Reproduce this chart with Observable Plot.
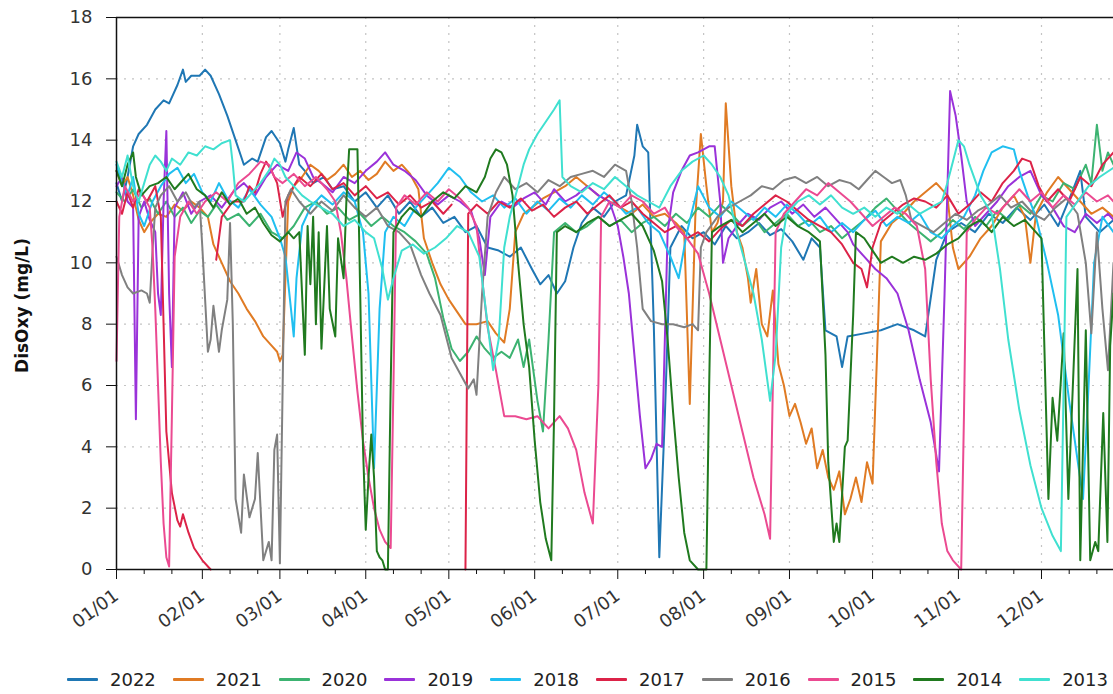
<!DOCTYPE html>
<html>
<head>
<meta charset="utf-8">
<script src="https://cdn.jsdelivr.net/npm/d3@7"></script>
<script src="https://cdn.jsdelivr.net/npm/@observablehq/plot@0.6"></script>
<style>
  html, body { margin: 0; padding: 0; background: white; }
  #wrap { position: relative; width: 1113px; height: 694px; overflow: hidden; font-family: "DejaVu Sans", sans-serif; }
  #legend { position: absolute; left: 67px; top: 669px; display: flex; }
  .item { width: 105.8px; display: flex; align-items: center; font-size: 18px; color: #222; white-space: nowrap; }
  .sw { width: 31px; height: 3px; margin-right: 12px; border-radius: 1px; }
</style>
</head>
<body>
<div id="wrap"><div id="chart"></div><div id="legend"></div></div>
<script>
const years = ["2022","2021","2020","2019","2018","2017","2016","2015","2014","2013"];
const colors = ["#1f77b4","#e07b24","#3cb371","#9a32d9","#20bff0","#dc2348","#808080","#eb4a91","#207a1f","#40e0d0"];
const monthDays = [0,31,59,90,120,151,181,212,243,273,304,334];
const monthLabels = ["01/01","02/01","03/01","04/01","05/01","06/01","07/01","08/01","09/01","10/01","11/01","12/01"];
const minorDays = monthDays.flatMap(d => [d + 10, d + 20]);
const yTicks = [0,2,4,6,8,10,12,14,16,18];
const yLabel = "DisOxy (mg/L)";

const s2022 = [[0,12.6],[2,12.0],[4,12.8],[6,13.8],[8,14.2],[11,14.5],[14,15.0],[17,15.3],[19,15.2],[22,15.8],[24,16.3],[25,15.9],[27,16.1],[30,16.1],[32,16.3],[34,16.1],[37,15.5],[40,14.8],[43,14.0],[46,13.2],[49,13.4],[51,13.3],[54,14.1],[56,14.3],[59,13.9],[61,13.3],[62,13.7],[64,14.4],[66,13.2],[68,13.0],[71,12.6],[75,12.8],[78,12.4],[82,12.5],[86,12.0],[90,12.3],[94,11.8],[98,12.2],[102,11.6],[106,12.0],[110,11.5],[114,11.8],[118,11.3],[122,11.5],[126,11.0],[130,11.2],[134,10.5],[138,10.4],[142,10.2],[146,10.5],[150,9.8],[153,9.3],[156,9.6],[159,9.0],[162,9.4],[165,10.5],[168,11.3],[172,11.8],[176,11.5],[180,12.0],[184,12.2],[187,13.5],[188,14.5],[190,13.8],[192,13.6],[194,8.0],[196,0.4],[198,5.0],[200,10.5],[204,11.2],[208,10.8],[212,11.0],[216,10.6],[220,11.2],[224,10.8],[228,11.0],[232,11.3],[236,10.9],[240,11.1],[244,10.7],[248,10.1],[251,10.8],[254,10.5],[256,7.8],[260,7.6],[262,6.6],[264,7.6],[270,7.7],[276,7.8],[282,8.0],[288,7.8],[292,7.6],[296,10.1],[300,11.0],[305,11.3],[310,11.0],[315,11.6],[320,11.3],[325,11.8],[330,11.4],[335,11.9],[340,11.2],[345,12.3],[348,13.0],[350,11.5],[355,11.0],[360,11.4]];
const s2021 = [[0,13.0],[2,12.5],[4,12.8],[6,12.2],[8,11.4],[10,11.0],[12,11.3],[15,11.6],[18,11.5],[21,11.9],[24,11.7],[27,12.0],[30,11.8],[33,11.5],[35,10.6],[38,10.0],[41,9.4],[44,9.0],[47,8.5],[50,8.1],[53,7.6],[56,7.3],[58,7.1],[59,6.8],[60,7.0],[61,9.5],[62,12.0],[64,12.5],[67,12.8],[70,13.2],[73,13.0],[76,12.7],[79,12.9],[82,13.2],[85,12.8],[88,13.0],[91,12.7],[94,12.9],[97,13.3],[100,13.0],[103,13.2],[106,12.9],[109,12.4],[111,10.8],[114,10.0],[117,9.3],[120,8.8],[123,8.4],[126,8.0],[130,8.0],[134,8.1],[137,7.7],[140,7.4],[142,8.5],[144,11.0],[147,11.6],[150,11.8],[154,12.1],[158,12.3],[162,12.5],[166,12.8],[170,12.5],[174,12.2],[178,12.0],[182,11.8],[186,11.6],[190,11.9],[194,11.5],[198,11.6],[202,11.3],[205,11.0],[207,5.4],[209,11.5],[211,14.2],[213,12.5],[215,11.0],[217,11.3],[219,12.0],[220,15.2],[222,12.5],[224,11.0],[226,10.5],[228,9.5],[229,8.7],[231,9.8],[233,8.0],[235,7.6],[237,9.1],[239,6.7],[241,6.0],[243,5.0],[245,5.4],[247,4.8],[249,4.1],[251,4.6],[253,3.3],[255,3.9],[257,3.0],[259,2.6],[261,3.2],[263,1.8],[265,2.3],[267,3.0],[269,2.2],[271,3.5],[273,2.8],[275,8.0],[276,10.7],[280,11.3],[284,11.6],[288,12.0],[292,12.3],[296,12.6],[300,12.2],[302,10.5],[304,9.8],[308,10.2],[312,10.8],[316,11.2],[320,11.8],[324,12.2],[328,11.5],[330,10.0],[332,11.6],[336,12.3],[340,12.8],[344,12.4],[348,12.0],[352,11.6],[356,11.8],[360,11.5]];
const s2020 = [[0,12.3],[3,12.0],[6,12.4],[9,11.8],[12,12.1],[15,11.6],[18,12.0],[21,11.5],[24,11.8],[27,11.3],[30,11.7],[33,11.5],[36,11.9],[40,11.4],[44,11.6],[48,11.2],[52,11.6],[56,11.0],[60,10.8],[64,11.2],[68,11.8],[72,12.0],[76,11.6],[80,11.8],[84,11.4],[88,11.6],[92,11.2],[96,11.5],[100,11.2],[104,11.0],[108,10.7],[112,10.3],[115,9.5],[118,8.2],[121,7.2],[124,6.8],[127,7.1],[130,7.6],[133,7.2],[136,6.9],[139,7.1],[142,6.9],[145,7.5],[147,6.6],[149,7.5],[152,5.5],[154,4.5],[156,7.5],[158,11.0],[162,11.3],[166,11.0],[170,11.2],[174,11.5],[178,11.2],[182,11.4],[186,11.0],[190,11.3],[194,11.5],[198,11.2],[202,11.6],[206,11.3],[210,11.8],[214,11.5],[218,11.9],[222,11.6],[226,11.2],[230,11.5],[234,11.0],[238,11.3],[242,11.6],[246,11.2],[250,11.4],[254,11.0],[258,11.2],[262,10.8],[266,11.1],[270,11.4],[274,11.8],[278,12.1],[282,11.7],[286,11.3],[290,11.0],[294,10.7],[298,11.0],[302,11.4],[306,11.1],[310,11.5],[314,11.2],[318,11.7],[322,11.4],[326,11.9],[330,11.6],[334,12.2],[338,12.0],[342,12.6],[346,12.4],[350,13.2],[352,12.6],[354,14.5],[356,13.0],[358,13.6],[360,13.2]];
const s2019 = [[0,12.5],[2,12.8],[4,12.0],[6,11.8],[7,4.9],[8,11.5],[10,12.0],[12,11.4],[14,11.0],[15,9.0],[16,8.3],[17,12.0],[18,14.3],[19,9.0],[20,6.6],[21,11.8],[24,12.3],[27,11.6],[30,12.0],[34,12.2],[38,11.8],[42,12.3],[46,12.6],[50,12.2],[54,12.8],[58,13.2],[62,13.0],[65,13.6],[68,13.4],[71,12.8],[74,12.6],[78,12.3],[82,12.8],[86,12.6],[90,13.0],[94,13.3],[97,13.6],[100,13.2],[104,13.0],[108,12.7],[112,12.2],[116,11.9],[120,12.2],[124,12.0],[128,11.7],[131,10.8],[133,9.6],[135,11.5],[139,12.0],[143,11.8],[147,12.1],[151,12.3],[155,11.9],[158,12.4],[162,12.0],[166,12.2],[170,12.5],[174,12.2],[178,12.0],[181,11.2],[183,10.2],[185,9.0],[187,7.0],[189,5.0],[191,3.3],[193,3.6],[195,4.1],[197,4.0],[199,11.0],[201,12.3],[204,13.0],[207,13.5],[210,13.6],[214,13.8],[216,13.8],[218,12.0],[219,10.0],[221,10.8],[224,11.2],[228,11.6],[232,11.4],[236,11.8],[240,12.0],[244,11.6],[248,11.9],[252,11.5],[256,11.8],[260,11.4],[264,11.0],[266,10.6],[270,10.2],[274,9.8],[278,9.5],[282,9.0],[286,7.8],[290,6.2],[294,4.8],[297,3.2],[299,9.0],[301,15.6],[303,14.8],[305,13.5],[307,12.0],[310,11.2],[314,11.6],[318,12.0],[322,12.5],[326,12.8],[330,13.0],[334,12.2],[338,11.8],[342,11.2],[346,11.0],[350,11.6],[354,11.3],[358,11.6],[360,11.4]];
const s2018 = [[0,13.2],[2,12.6],[4,12.2],[6,12.8],[8,11.6],[10,11.2],[13,12.0],[16,12.5],[19,12.9],[22,13.1],[25,12.6],[28,12.9],[31,12.3],[34,12.0],[37,12.6],[40,12.1],[44,11.8],[48,12.4],[52,11.9],[56,11.5],[59,10.8],[61,10.2],[63,8.5],[64,7.6],[65,9.5],[67,11.2],[70,11.8],[74,12.2],[78,11.9],[82,12.3],[86,12.0],[89,11.0],[91,9.0],[93,3.3],[95,8.5],[97,11.0],[100,11.5],[104,11.2],[108,11.8],[112,12.2],[116,12.6],[120,13.1],[124,12.8],[128,12.3],[132,12.0],[136,12.2],[140,11.8],[144,12.1],[148,11.6],[152,12.0],[156,11.7],[160,12.1],[164,11.8],[168,12.2],[172,11.9],[176,12.3],[180,12.0],[184,11.6],[188,11.8],[192,11.3],[196,11.0],[200,10.2],[203,9.5],[206,11.0],[210,12.5],[214,11.8],[218,11.5],[222,12.0],[226,11.7],[230,11.4],[234,11.8],[238,11.5],[242,11.9],[246,11.6],[250,11.2],[254,11.5],[258,11.0],[262,11.3],[266,11.0],[270,11.4],[274,11.7],[278,11.2],[282,11.5],[286,11.3],[290,11.6],[294,11.0],[298,10.8],[302,11.2],[306,11.5],[310,12.2],[313,13.0],[316,13.6],[320,13.8],[324,13.7],[326,13.0],[329,12.2],[332,11.5],[336,10.0],[340,8.3],[344,5.5],[349,2.3],[351,6.0],[353,10.0],[356,11.5],[360,11.0]];
const s2017 = [[0,12.0],[2,11.6],[4,12.3],[6,11.8],[8,12.4],[11,12.0],[14,12.5],[16,11.5],[17,8.0],[18,4.5],[20,2.5],[22,1.6],[23,1.4],[24,1.8],[26,1.2],[28,0.7],[31,0.3],[34,0.0],[35,null],[36,10.1],[38,11.5],[42,12.0],[46,12.0],[48,12.5],[50,12.3],[52,12.9],[54,13.3],[56,13.0],[58,12.6],[60,11.5],[62,12.2],[66,12.8],[70,12.5],[74,12.9],[78,12.4],[82,12.6],[86,12.2],[90,12.5],[94,12.1],[98,12.3],[102,11.9],[106,12.2],[110,11.8],[114,12.0],[118,11.6],[121,11.9],[122,null],[126,0.0],[127,11.6],[130,11.9],[134,11.6],[138,12.0],[142,11.8],[146,12.1],[150,11.7],[154,11.9],[158,11.5],[162,11.8],[166,12.0],[170,11.6],[174,11.9],[178,12.2],[182,11.8],[186,12.0],[190,11.6],[194,11.3],[198,11.0],[202,11.2],[206,10.8],[210,11.0],[214,10.7],[218,11.1],[222,11.4],[226,11.2],[230,11.6],[234,11.9],[238,12.2],[242,12.0],[246,11.7],[250,11.4],[254,11.2],[258,11.0],[262,10.6],[266,10.0],[269,9.8],[271,9.2],[273,10.5],[276,11.3],[280,11.6],[284,11.9],[288,12.1],[292,12.0],[296,11.8],[300,12.2],[304,11.6],[308,11.9],[312,12.3],[316,12.0],[320,12.6],[324,13.0],[327,13.4],[330,13.3],[333,12.5],[336,12.0],[340,12.4],[344,12.0],[348,12.8],[352,12.5],[356,13.2],[360,13.6]];
const s2016 = [[0,10.2],[2,9.6],[4,9.2],[6,9.0],[9,9.1],[11,9.0],[12,8.7],[13,10.4],[14,11.8],[16,12.2],[19,12.5],[22,12.0],[25,12.3],[28,11.8],[30,12.0],[31,10.5],[32,8.8],[33,7.1],[34,7.5],[35,8.6],[37,7.1],[38,7.8],[40,8.8],[41,11.3],[42,8.0],[43,2.3],[45,1.2],[46,3.1],[48,1.7],[50,2.3],[51,3.8],[53,0.3],[55,0.9],[56,0.3],[57,3.9],[58,4.4],[59,0.2],[60,6.0],[61,12.0],[63,12.4],[66,12.0],[70,11.6],[74,12.0],[78,11.7],[82,12.2],[86,11.8],[90,11.5],[94,11.8],[98,11.2],[102,11.0],[106,10.6],[110,9.6],[113,9.0],[117,8.3],[121,6.9],[124,6.4],[127,5.9],[129,6.2],[130,5.7],[132,9.0],[134,11.5],[137,12.3],[140,12.8],[144,12.4],[148,12.6],[152,12.3],[156,12.7],[160,12.5],[164,12.8],[168,12.9],[172,13.0],[176,12.8],[180,13.2],[184,13.0],[186,12.0],[188,10.5],[190,8.5],[193,8.1],[197,8.0],[201,8.0],[205,7.9],[208,8.0],[210,7.8],[211,10.5],[213,11.0],[217,11.5],[221,11.8],[225,12.0],[229,12.2],[233,12.5],[237,12.4],[241,12.7],[245,12.8],[249,12.6],[253,12.8],[257,12.5],[261,12.7],[265,12.6],[268,12.4],[271,12.7],[274,13.0],[277,12.8],[280,12.6],[283,12.7],[285,12.2],[287,11.4],[291,11.2],[295,11.0],[299,11.3],[303,11.6],[307,11.4],[311,11.7],[315,11.9],[319,12.2],[323,11.8],[327,12.0],[331,11.6],[335,11.4],[339,11.8],[343,12.1],[347,11.6],[350,10.0],[352,7.7],[354,11.0],[356,8.5],[358,6.5],[360,10.0]];
const s2015 = [[0,6.8],[1,11.5],[3,12.5],[6,12.0],[9,12.3],[12,11.8],[13,10.5],[14,8.5],[15,6.0],[16,3.5],[17,1.5],[18,0.4],[19,0.1],[20,5.0],[21,10.2],[23,11.5],[26,12.0],[29,11.6],[32,12.0],[36,12.3],[40,12.0],[44,12.6],[48,12.9],[52,13.3],[55,13.2],[57,12.8],[60,12.6],[64,12.9],[68,12.5],[72,12.8],[76,12.4],[79,12.0],[81,11.0],[83,9.5],[85,7.6],[87,5.8],[89,4.2],[91,3.0],[93,2.0],[95,1.3],[97,0.9],[99,0.7],[100,6.0],[101,11.8],[104,12.2],[108,11.9],[112,12.3],[116,12.0],[120,12.4],[124,12.1],[127,11.8],[130,11.2],[132,9.5],[134,7.9],[137,6.5],[140,5.0],[144,5.0],[148,4.9],[152,5.0],[156,4.6],[160,5.0],[163,4.6],[166,3.9],[169,2.5],[172,1.5],[174,6.0],[175,11.5],[178,12.0],[182,11.8],[186,12.2],[190,12.0],[194,11.6],[198,11.8],[202,11.2],[206,10.8],[210,10.3],[214,9.0],[218,7.5],[222,6.0],[226,4.5],[230,3.0],[234,1.8],[236,1.0],[237,6.0],[238,11.0],[241,11.6],[245,12.0],[249,12.4],[253,12.2],[257,12.6],[261,12.3],[265,12.0],[269,11.6],[273,11.2],[277,11.5],[281,11.8],[285,11.6],[289,11.2],[292,9.8],[294,6.2],[296,3.5],[298,1.5],[300,0.6],[302,0.3],[305,0.0],[306,5.0],[307,11.0],[310,11.4],[314,11.8],[318,11.6],[322,12.0],[326,12.4],[330,12.0],[334,12.3],[338,11.8],[342,12.2],[346,11.9],[350,12.3],[354,12.0],[358,12.2],[360,12.0]];
const s2014 = [[0,13.0],[2,12.5],[4,13.2],[6,13.6],[7,12.8],[9,12.2],[12,12.5],[15,12.6],[18,12.8],[21,12.4],[24,12.7],[26,12.9],[29,12.4],[32,12.2],[35,11.8],[38,12.3],[41,11.9],[44,12.1],[47,11.6],[50,11.8],[53,11.3],[56,10.9],[59,10.7],[62,11.0],[64,10.8],[66,11.0],[68,7.0],[69,11.2],[70,9.3],[71,11.5],[72,8.0],[73,11.0],[74,7.2],[76,11.2],[77,8.5],[79,7.6],[80,10.8],[82,9.5],[83,12.0],[84,13.7],[86,13.7],[87,13.7],[88,9.0],[89,4.0],[90,1.3],[91,3.0],[92,4.4],[93,3.0],[94,0.6],[95,0.4],[96,0.3],[97,0.0],[98,0.0],[99,6.0],[100,11.0],[103,11.5],[106,11.8],[110,11.5],[114,12.0],[118,12.3],[122,12.1],[126,12.5],[130,12.3],[133,12.8],[135,13.4],[137,13.7],[139,13.6],[141,13.2],[143,12.2],[145,10.0],[147,8.0],[149,6.6],[151,4.2],[153,2.2],[155,1.0],[157,0.3],[158,5.0],[159,11.0],[162,11.2],[166,11.0],[170,11.3],[174,11.5],[178,11.2],[182,11.4],[186,11.6],[190,11.2],[194,10.4],[197,9.4],[199,7.5],[201,5.1],[203,3.0],[205,1.2],[207,0.3],[210,0.0],[213,0.0],[214,6.0],[215,11.0],[218,11.2],[222,11.4],[226,11.0],[230,11.3],[234,11.6],[238,11.2],[242,11.5],[246,11.2],[250,11.0],[254,10.7],[256,7.0],[257,3.5],[259,0.9],[260,1.5],[261,0.9],[263,4.0],[264,4.2],[266,8.3],[267,11.0],[270,10.8],[273,10.4],[276,10.0],[280,10.2],[284,10.0],[288,10.2],[292,10.1],[296,10.3],[300,10.6],[304,10.8],[308,11.2],[312,11.4],[316,11.0],[320,11.5],[324,11.2],[328,11.4],[334,10.8],[336.5,2.3],[338,5.6],[339.7,4.2],[342,7.7],[343.7,2.3],[347,9.8],[348,0.3],[350,7.8],[351.6,0.3],[353.4,0.9],[354.5,0.6],[356.3,5.1],[357.8,0.9],[358.8,7.3],[360,9.0]];
const s2013 = [[0,13.3],[2,12.8],[4,13.5],[6,12.5],[8,12.0],[10,12.6],[12,13.2],[14,13.5],[16,13.3],[18,13.0],[20,13.4],[23,13.2],[26,13.6],[29,13.5],[32,13.8],[35,13.7],[38,13.9],[41,14.0],[42,13.2],[43,12.2],[46,12.0],[49,12.3],[52,12.6],[55,13.0],[57,13.4],[59,13.2],[61,12.8],[64,12.5],[67,12.2],[70,12.0],[74,11.8],[78,11.6],[82,11.2],[86,11.4],[90,11.0],[93,10.8],[96,9.8],[98,8.8],[100,9.5],[103,10.4],[107,10.6],[111,10.3],[115,10.5],[119,10.8],[123,11.2],[127,11.0],[131,10.2],[134,8.0],[136,6.5],[138,7.5],[140,10.5],[142,11.5],[145,12.5],[147,13.2],[149,13.7],[152,14.2],[155,14.6],[158,15.0],[160,15.3],[161,12.8],[164,12.5],[168,12.3],[172,12.6],[176,12.4],[180,12.8],[184,12.5],[188,12.2],[192,12.0],[196,11.8],[200,12.5],[204,13.0],[208,13.3],[212,13.5],[215,13.2],[218,12.8],[221,12.2],[224,11.0],[227,10.0],[230,9.0],[233,7.5],[236,5.5],[238,7.0],[240,10.5],[242,11.6],[246,12.0],[250,12.2],[254,11.9],[258,12.2],[262,11.8],[266,11.6],[270,11.8],[274,11.5],[278,11.8],[282,11.6],[286,11.9],[290,11.6],[294,11.8],[298,12.0],[300,12.6],[302,13.3],[304,14.0],[306,13.8],[308,13.2],[312,12.2],[316,11.6],[319,9.8],[322,7.5],[326,5.2],[330,3.4],[334,2.0],[338,1.1],[341,0.6],[342,6.0],[343,11.5],[347,12.0],[351,12.5],[355,12.8],[360,13.1]];

const seriesList = [s2022,s2021,s2020,s2019,s2018,s2017,s2016,s2015,s2014,s2013];
const data = seriesList.flatMap((s, i) => s.map(([day, v]) => ({year: years[i], day, v})));
const labelByDay = new Map(monthDays.map((d, i) => [d, monthLabels[i]]));

const chart = Plot.plot({
  width: 1113,
  height: 655,
  marginLeft: 116,
  marginRight: 0,
  marginTop: 17,
  marginBottom: 86,
  style: {fontFamily: "DejaVu Sans, sans-serif", fontSize: "18px", color: "#333", background: "white", overflow: "visible"},
  x: {domain: [0, 360]},
  y: {domain: [0, 18]},
  color: {domain: years, range: colors},
  marks: [
    Plot.gridX(monthDays.slice(1), {stroke: "#c4c4c4", strokeOpacity: 1, strokeDasharray: "2,6", strokeWidth: 1.2}),
    Plot.gridY(yTicks.slice(1, -1), {stroke: "#c4c4c4", strokeOpacity: 1, strokeDasharray: "2,6", strokeWidth: 1.2}),
    Plot.line(data, {x: "day", y: "v", z: "year", stroke: "year", strokeWidth: 2, curve: "linear"}),
    Plot.ruleY([0, 18], {stroke: "#111", strokeWidth: 1.5}),
    Plot.ruleX([0], {stroke: "#111", strokeWidth: 1.5}),
    Plot.axisY({ticks: yTicks, tickSize: 10, tickPadding: 14, label: null, fontSize: 18, stroke: "#111"}),
    Plot.axisX({ticks: minorDays, tickSize: 5, tickFormat: () => "", label: null, stroke: "#111"}),
    Plot.axisX({ticks: monthDays, tickSize: 10, tickRotate: -36, tickPadding: 14, tickFormat: d => labelByDay.get(d), label: null, fontSize: 18, stroke: "#111"}),
    Plot.text([yLabel], {frameAnchor: "left", textAnchor: "middle", dx: -94, dy: 12, rotate: -90, fontWeight: "bold", fontSize: 17, fill: "#111"})
  ]
});
document.getElementById("chart").appendChild(chart);

const legend = document.getElementById("legend");
years.forEach((y, i) => {
  const it = document.createElement("div");
  it.className = "item";
  it.innerHTML = `<span class="sw" style="background:${colors[i]}"></span><span>${y}</span>`;
  legend.appendChild(it);
});
</script>
</body>
</html>
